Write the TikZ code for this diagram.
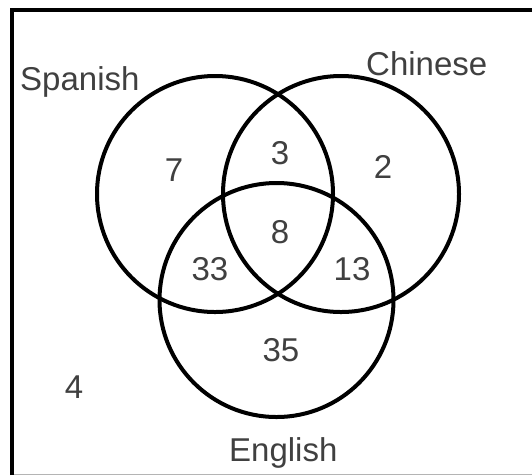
\documentclass[tikz,border=0pt]{standalone}
\usepackage{fontspec}
\setmainfont{Liberation Sans}
\definecolor{txtgray}{RGB}{64,64,64}
\definecolor{framegray}{RGB}{180,180,180}
\begin{document}
\begin{tikzpicture}[x=1pt,y=-1pt,
  setcircle/.style={circle,draw=black,line width=4pt,inner sep=0pt,minimum size=236pt},
  lbl/.style={text=txtgray,font=\fontsize{33}{33}\selectfont,inner sep=0pt,anchor=base west},
  num/.style={text=txtgray,font=\fontsize{33}{33}\selectfont,inner sep=0pt,anchor=center}]
\useasboundingbox (0,0) rectangle (532,475);
\fill[white] (0,0) rectangle (532,475);
% frame
\coordinate (fTL) at (12,10);
\coordinate (fTR) at (532,10);
\coordinate (fBL) at (12,475);
\coordinate (gL) at (14,474);
\coordinate (gR) at (532,474);
\draw[framegray,line width=1pt] (gL) -- (gR);
\draw[black,line width=4pt] (fBL) -- (fTL) -- (fTR);
% circles
\node[setcircle] (S) at (215,194) {};
\node[setcircle] (C) at (341,194) {};
\node[setcircle,minimum size=234pt] (E) at (276.5,300) {};
% labels
\node[lbl] (ls) at (20,90) {Spanish};
\node[lbl] (lc) at (366,75) {Chinese};
\node[lbl] (le) at (229,461) {English};
% numbers
\node[num] (n7) at (174,170) {7};
\node[num] (n3) at (280,153) {3};
\node[num] (n2) at (383,167) {2};
\node[num] (n8) at (280,232) {8};
\node[num] (n33) at (210,269) {33};
\node[num] (n13) at (352,269) {13};
\node[num] (n35) at (281,350) {35};
\node[num] (n4) at (74,387) {4};
\end{tikzpicture}
\end{document}
